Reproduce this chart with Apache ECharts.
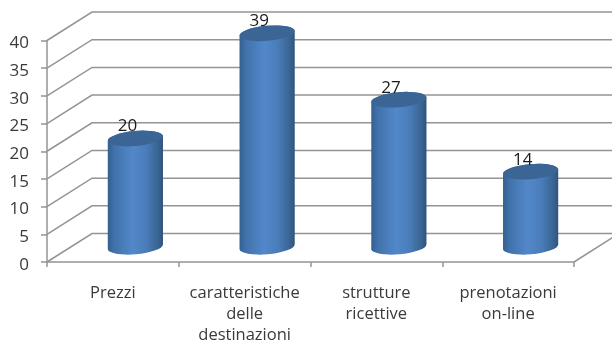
<!DOCTYPE html>
<html>
<head>
<meta charset="utf-8">
<style>html,body{margin:0;padding:0;background:#fff}#chart{width:612px;height:342px}</style>
<script src="https://cdn.jsdelivr.net/npm/echarts@6/dist/echarts.min.js"></script>
</head>
<body>
<div id="chart"></div>
<script>
const categories = ['Prezzi', 'caratteristiche\ndelle\ndestinazioni', 'strutture\nricettive', 'prenotazioni\non-line'];
const values = [20, 39, 27, 14];
const yTicks = [0, 5, 10, 15, 20, 25, 30, 35, 40];

// Depth of the pseudo-3D box: how far the back wall sits from the front plane.
const DEPTH_X = 45;
const DEPTH_Y = -28.5;
const GRID_COLOR = '#949494';
const FONT = '"Open Sans", Lato, sans-serif';

const chart = echarts.init(document.getElementById('chart'), null, { renderer: 'canvas' });

// One wall line per tick: a diagonal on the side wall, then a run along the back wall.
function renderWallLine(params, api) {
  const p = api.coord([0, api.value(0)]);
  const rect = params.coordSys;
  const x0 = rect.x;
  const y0 = p[1];
  return {
    type: 'polyline',
    silent: true,
    shape: { points: [[x0, y0], [x0 + DEPTH_X, y0 + DEPTH_Y], [x0 + rect.width + DEPTH_X, y0 + DEPTH_Y]] },
    style: { stroke: GRID_COLOR, lineWidth: 1.5, fill: null }
  };
}

// Right-hand floor edge, leaving the front corner towards the back.
function renderFloorEdge(params, api) {
  const rect = params.coordSys;
  const x = rect.x + rect.width;
  const y = api.coord([0, api.value(0)])[1];
  return {
    type: 'line',
    silent: true,
    shape: { x1: x, y1: y, x2: x + DEPTH_X, y2: y + DEPTH_Y },
    style: { stroke: GRID_COLOR, lineWidth: 1.5 }
  };
}

// Tilted cylinder placed half way into the box depth.
function renderCylinder(params, api) {
  const idx = api.value(0);
  const val = api.value(1);
  const top = api.coord([idx, val]);
  const base = api.coord([idx, 0]);
  const cx = top[0] + DEPTH_X / 2;
  const topY = top[1] + DEPTH_Y / 2 + 1.5;
  const baseY = base[1] + DEPTH_Y / 2 - 1;
  const rx = 27.6, ry = 7.5, rot = -5, tilt = 2.4;
  const lx = cx - rx, rxp = cx + rx;
  const body =
    'M' + lx + ' ' + (topY + tilt) +
    ' A' + rx + ' ' + ry + ' ' + rot + ' 0 1 ' + rxp + ' ' + (topY - tilt) +
    ' L' + rxp + ' ' + (baseY - tilt) +
    ' A' + rx + ' ' + ry + ' ' + rot + ' 0 1 ' + lx + ' ' + (baseY + tilt) + ' Z';
  const cap =
    'M' + lx + ' ' + (topY + tilt) +
    ' A' + rx + ' ' + ry + ' ' + rot + ' 0 1 ' + rxp + ' ' + (topY - tilt) +
    ' A' + rx + ' ' + ry + ' ' + rot + ' 0 1 ' + lx + ' ' + (topY + tilt) + ' Z';
  return {
    type: 'group',
    children: [
      {
        type: 'path',
        shape: { pathData: body },
        style: {
          fill: new echarts.graphic.LinearGradient(0, 0, 1, 0, [
            { offset: 0, color: '#33608f' },
            { offset: 0.12, color: '#4172ab' },
            { offset: 0.45, color: '#5288ca' },
            { offset: 0.7, color: '#4a7cb8' },
            { offset: 0.9, color: '#3a6594' },
            { offset: 1, color: '#30547c' }
          ])
        }
      },
      { type: 'path', shape: { pathData: cap }, style: { fill: '#3b6595' } },
      {
        type: 'text',
        style: {
          x: cx - 8, y: topY - 12, text: String(val),
          font: '17px ' + FONT, fill: '#1a1a1a', align: 'center', verticalAlign: 'middle'
        }
      }
    ]
  };
}

chart.setOption({
  animation: false,
  backgroundColor: '#ffffff',
  grid: { left: 47, right: 38, top: 40.5, bottom: 80, containLabel: false, outerBoundsMode: 'none' },
  xAxis: {
    type: 'category',
    data: categories,
    axisLine: { lineStyle: { color: GRID_COLOR, width: 1.5 } },
    axisTick: { show: true, length: 5, lineStyle: { color: GRID_COLOR, width: 1.5 } },
    axisLabel: { color: '#3a3a3a', fontFamily: FONT, fontSize: 16.5, lineHeight: 21, margin: 20.5, interval: 0 },
    splitLine: { show: false }
  },
  yAxis: {
    type: 'value',
    min: 0,
    max: 40,
    interval: 5,
    axisLine: { show: true, lineStyle: { color: GRID_COLOR, width: 1.5 } },
    axisTick: { show: true, length: 6, lineStyle: { color: GRID_COLOR, width: 1.5 } },
    axisLabel: { color: '#3a3a3a', fontFamily: FONT, fontSize: 17, margin: 18, verticalAlign: 'top', lineHeight: 6 },
    splitLine: { show: false }
  },
  series: [
    {
      type: 'custom',
      coordinateSystem: 'cartesian2d',
      clip: false,
      silent: true,
      z: 1,
      encode: { y: 0 },
      data: yTicks.map(t => [t]),
      renderItem: renderWallLine
    },
    {
      type: 'custom',
      coordinateSystem: 'cartesian2d',
      clip: false,
      silent: true,
      z: 1,
      encode: { y: 0 },
      data: [[yTicks[0]]],
      renderItem: renderFloorEdge
    },
    {
      type: 'custom',
      coordinateSystem: 'cartesian2d',
      clip: false,
      z: 3,
      encode: { x: 0, y: 1 },
      data: values.map((v, i) => [i, v]),
      renderItem: renderCylinder
    }
  ]
});
</script>
</body>
</html>
